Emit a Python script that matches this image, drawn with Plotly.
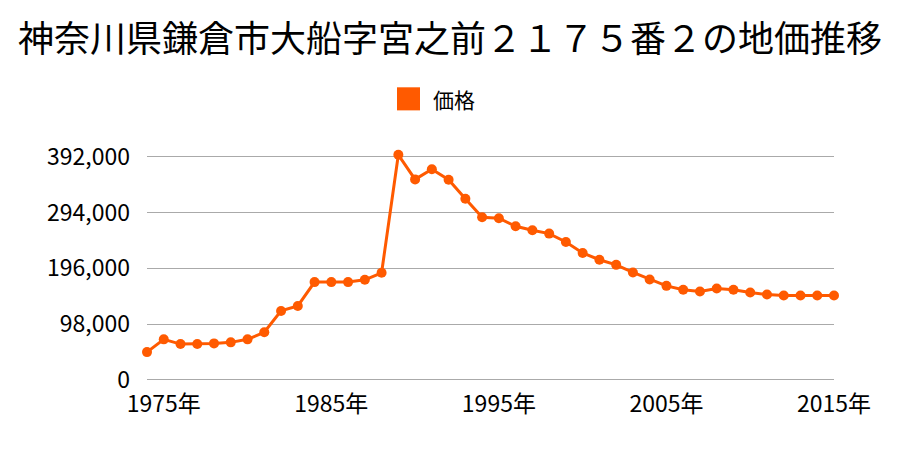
import plotly.graph_objects as go

years = list(range(1974, 2016))
prices = [48600, 71000, 62700, 62700, 63900, 65700, 71000, 83400, 121000, 129800,
          171700, 171700, 171700, 175700, 188000, 395500, 352300, 370000, 351800, 318200,
          285800, 284000, 269900, 262800, 257000, 242300, 222900, 211000, 202000, 188600,
          176200, 165100, 158100, 155100, 160400, 158100, 153300, 149800, 148000, 148000,
          148000, 148000]
ytick_vals = [0, 98000, 196000, 294000, 392000]
xtick_vals = [1975, 1985, 1995, 2005, 2015]
xtick_text = [f"{y}年" for y in xtick_vals]
series_name = "価格"
title_text = "神奈川県鎌倉市大船字宮之前２１７５番２の地価推移"

COLOR = "#ff5a00"
FONT = "Noto Sans CJK JP"

W, H = 900, 450
Y0_PX, YTOP_PX = 379.5, 157.3   # pixel rows of 0 and 392000
YMAX = 404000
YMIN = -4000
per = (Y0_PX - YTOP_PX) / 392000
T = YTOP_PX - (YMAX - 392000) * per
B = H - (Y0_PX + (0 - YMIN) * per)
L, R = 147, 66
pw, ph = W - L - R, H - T - B

fig = go.Figure()
fig.add_trace(go.Scatter(
    x=years, y=prices, mode="lines+markers", name=series_name,
    line=dict(color=COLOR, width=3),
    marker=dict(color=COLOR, size=10),
    cliponaxis=False, showlegend=False,
))

def px_to_paper_x(px):
    return (px - L) / pw

def px_to_paper_y(py):
    return (H - B - py) / ph

# manual legend
fig.add_shape(type="rect", xref="paper", yref="paper",
              x0=px_to_paper_x(397), x1=px_to_paper_x(420),
              y0=px_to_paper_y(111), y1=px_to_paper_y(88),
              fillcolor=COLOR, line=dict(width=0))
fig.add_annotation(xref="paper", yref="paper", x=px_to_paper_x(431), y=px_to_paper_y(99.5),
                   text=series_name, showarrow=False, xanchor="left", yanchor="middle",
                   font=dict(family=FONT, size=21, color="#000"))

fig.update_layout(
    width=W, height=H,
    margin=dict(l=L, r=R, t=T, b=B, pad=0),
    paper_bgcolor="white", plot_bgcolor="white",
    title=dict(text=title_text, x=0.5, xanchor="center", xref="container",
               y=1 - 39 / H, yanchor="middle", yref="container",
               font=dict(family=FONT, size=36, color="#000")),
    xaxis=dict(range=[1974, 2015], tickvals=xtick_vals, ticktext=xtick_text,
               showgrid=False, zeroline=False, showline=False, ticks="",
               ticklabelstandoff=6,
               tickfont=dict(family=FONT, size=23, color="#000")),
    yaxis=dict(range=[YMIN, YMAX], tickvals=ytick_vals, tickformat=",d",
               showgrid=True, gridcolor="#aaaaaa", gridwidth=1, zeroline=False,
               showline=False, ticks="", ticklabelstandoff=16,
               tickfont=dict(family=FONT, size=23, color="#000")),
    showlegend=False,
)

fig.write_html("out.html")
